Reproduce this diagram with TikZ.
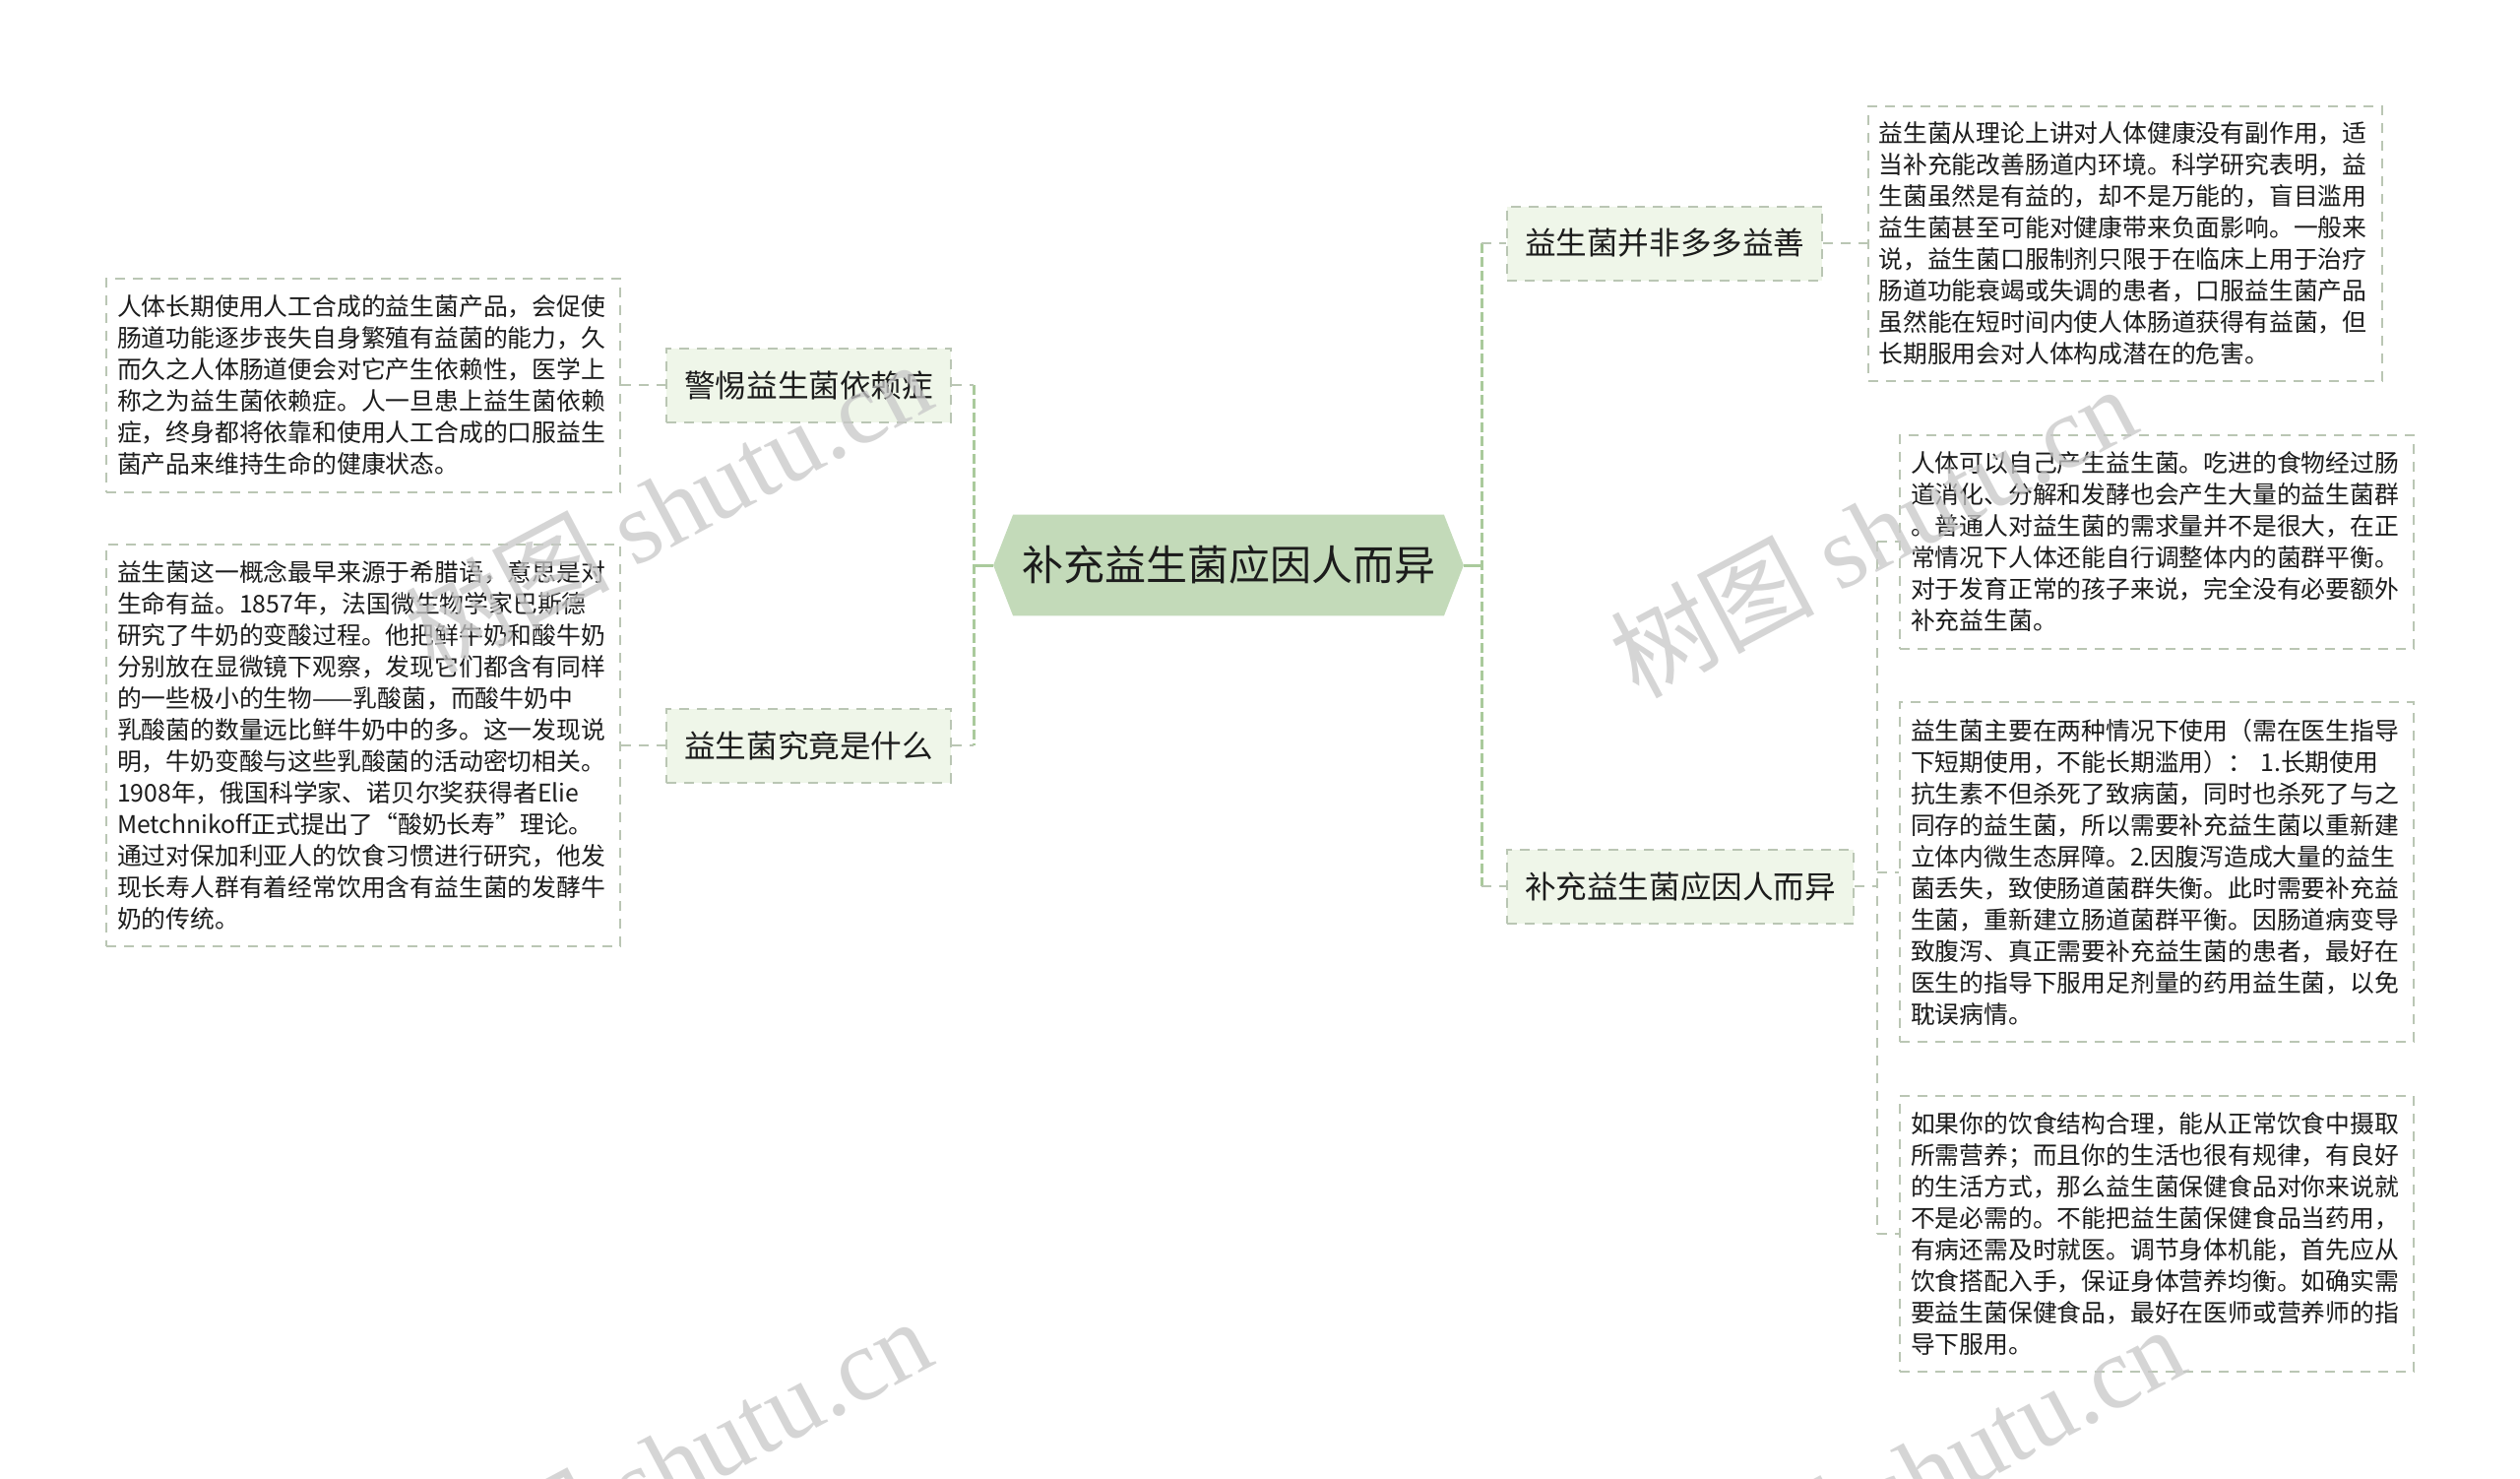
\documentclass[tikz,border=0pt]{standalone}
\usepackage{fontspec}
\setmainfont{Noto Sans CJK SC}
\newfontfamily\wmlatin{Liberation Serif}
\usetikzlibrary{calc}
\definecolor{hexfill}{RGB}{195,218,185}
\definecolor{brfill}{RGB}{239,246,233}
\definecolor{bordergray}{RGB}{186,198,180}
\definecolor{linegreen}{RGB}{170,202,156}
\definecolor{txt}{RGB}{28,28,28}
\definecolor{wm}{RGB}{200,200,200}
\pgfdeclarelayer{bg}
\pgfsetlayers{bg,main}
\begin{document}
\begin{tikzpicture}[x=0.5pt,y=-0.5pt,
  leaf/.style={draw=bordergray, line width=1pt, dash pattern=on 5pt off 4pt, fill=white, rectangle, text width=250pt, align=left, inner xsep=5.5pt, inner ysep=0pt, font=\fontsize{12.4pt}{16pt}\selectfont, text=txt},
  branch/.style={draw=bordergray, line width=1pt, dash pattern=on 5pt off 4pt, fill=brfill, rectangle, minimum height=37.5pt, inner xsep=9pt, font=\fontsize{15.8pt}{18pt}\selectfont, text=txt},
  root/.style={rectangle, minimum width=218.5pt, minimum height=51pt, inner sep=0pt, font=\fontsize{21pt}{24pt}\selectfont, text=txt},
  trunk/.style={draw=linegreen, line width=1.5pt},
  vline/.style={draw=linegreen, line width=1.5pt, dash pattern=on 5pt off 2pt},
  stub/.style={draw=bordergray, line width=1pt, dash pattern=on 5pt off 4pt},
  wmark/.style={text=wm, rotate=28, font=\fontsize{52pt}{56pt}\selectfont, inner sep=0pt, opacity=0.75}
]
\begin{pgfonlayer}{bg}
\fill[white] (0,0) rectangle (2560,1501);
\end{pgfonlayer}
\useasboundingbox (0,0) rectangle (2560,1501);

% root
\node[root] (c) at (1248,574) {补充益生菌应因人而异};
\begin{pgfonlayer}{bg}
\fill[hexfill] (c.north west) -- (c.north east) -- ([xshift=10pt]c.east) -- (c.south east) -- (c.south west) -- ([xshift=-10pt]c.west) -- cycle;
\end{pgfonlayer}

% branches
\node[branch, anchor=east] (b1) at (967,391) {警惕益生菌依赖症};
\node[branch, anchor=east] (b2) at (967,757) {益生菌究竟是什么};
\node[branch, anchor=west] (b3) at (1530,247) {益生菌并非多多益善};
\node[branch, anchor=west] (b4) at (1530,900) {补充益生菌应因人而异};

% leaves
\node[leaf, minimum height=108.5pt] (L1) at (369,391) {人体长期使用人工合成的益生菌产品，会促使\\肠道功能逐步丧失自身繁殖有益菌的能力，久\\而久之人体肠道便会对它产生依赖性，医学上\\称之为益生菌依赖症。人一旦患上益生菌依赖\\症，终身都将依靠和使用人工合成的口服益生\\菌产品来维持生命的健康状态。};
\node[leaf, minimum height=204pt] (L2) at (369,757) {益生菌这一概念最早来源于希腊语，意思是对\\生命有益。1857年，法国微生物学家巴斯德\\研究了牛奶的变酸过程。他把鲜牛奶和酸牛奶\\分别放在显微镜下观察，发现它们都含有同样\\的一些极小的生物——乳酸菌，而酸牛奶中\\乳酸菌的数量远比鲜牛奶中的多。这一发现说\\明，牛奶变酸与这些乳酸菌的活动密切相关。\\1908年，俄国科学家、诺贝尔奖获得者Elie\\Metchnikoff正式提出了“酸奶长寿”理论。\\通过对保加利亚人的饮食习惯进行研究，他发\\现长寿人群有着经常饮用含有益生菌的发酵牛\\奶的传统。};
\node[leaf, minimum height=139.5pt] (R1) at (2158.5,247) {益生菌从理论上讲对人体健康没有副作用，适\\当补充能改善肠道内环境。科学研究表明，益\\生菌虽然是有益的，却不是万能的，盲目滥用\\益生菌甚至可能对健康带来负面影响。一般来\\说，益生菌口服制剂只限于在临床上用于治疗\\肠道功能衰竭或失调的患者，口服益生菌产品\\虽然能在短时间内使人体肠道获得有益菌，但\\长期服用会对人体构成潜在的危害。};
\node[leaf, minimum height=108.5pt] (R2) at (2191,550) {人体可以自己产生益生菌。吃进的食物经过肠\\道消化、分解和发酵也会产生大量的益生菌群\\。普通人对益生菌的需求量并不是很大，在正\\常情况下人体还能自行调整体内的菌群平衡。\\对于发育正常的孩子来说，完全没有必要额外\\补充益生菌。};
\node[leaf, minimum height=172.5pt] (R3) at (2191,885.5) {益生菌主要在两种情况下使用（需在医生指导\\下短期使用，不能长期滥用）：\ 1.长期使用\\抗生素不但杀死了致病菌，同时也杀死了与之\\同存的益生菌，所以需要补充益生菌以重新建\\立体内微生态屏障。2.因腹泻造成大量的益生\\菌丢失，致使肠道菌群失衡。此时需要补充益\\生菌，重新建立肠道菌群平衡。因肠道病变导\\致腹泻、真正需要补充益生菌的患者，最好在\\医生的指导下服用足剂量的药用益生菌，以免\\耽误病情。};
\node[leaf, minimum height=140pt] (R4) at (2191,1253) {如果你的饮食结构合理，能从正常饮食中摄取\\所需营养；而且你的生活也很有规律，有良好\\的生活方式，那么益生菌保健食品对你来说就\\不是必需的。不能把益生菌保健食品当药用，\\有病还需及时就医。调节身体机能，首先应从\\饮食搭配入手，保证身体营养均衡。如确实需\\要益生菌保健食品，最好在医师或营养师的指\\导下服用。};

% junctions
\coordinate (jl) at (989,574);
\coordinate (jr) at (1505,574);
\coordinate (jr2) at (1907,900);

% connectors left
\draw[trunk] ([xshift=-10pt]c.west) -- (jl);
\draw[vline] (jl |- b1.east) -- (jl |- b2.east);
\draw[stub] (b1.east) -- (jl |- b1.east);
\draw[stub] (b2.east) -- (jl |- b2.east);
\draw[stub] (L1.east) -- (b1.west);
\draw[stub] (L2.east) -- (b2.west);

% connectors right
\draw[trunk] ([xshift=10pt]c.east) -- (jr);
\draw[vline] (jr |- b3.west) -- (jr |- b4.west);
\draw[stub] (jr |- b3.west) -- (b3.west);
\draw[stub] (jr |- b4.west) -- (b4.west);
\draw[stub] (b3.east) -- (R1.west);
\draw[stub] (b4.east) -- (jr2);
\draw[stub] (jr2 |- R2.west) -- (jr2 |- R4.west);
\draw[stub] (jr2 |- R2.west) -- (R2.west);
\draw[stub] (jr2 |- R3.west) -- (R3.west);
\draw[stub] (jr2 |- R4.west) -- (R4.west);

% watermarks
\node[wmark] (w1) at (678,514) {树图 {\wmlatin shutu.cn}};
\node[wmark] (w2) at (1902,539) {树图 {\wmlatin shutu.cn}};
\node[wmark] (w3) at (678,1486) {树图 {\wmlatin shutu.cn}};
\node[wmark] (w4) at (1951,1494) {树图 {\wmlatin shutu.cn}};
\end{tikzpicture}
\end{document}
